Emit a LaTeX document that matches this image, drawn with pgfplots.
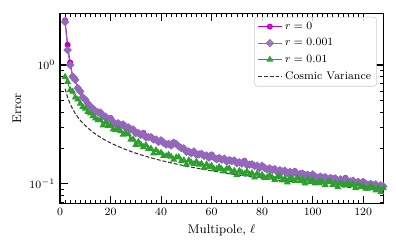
\documentclass[border=0pt]{standalone}
\usepackage{pgfplots}
\usepackage{pgfplotstable}
\pgfplotsset{compat=1.18}
\definecolor{cmag}{RGB}{191,0,191}
\definecolor{cpur}{RGB}{148,103,189}
\definecolor{cgrn}{RGB}{44,160,44}
\pgfplotstableread{
l m p g cv
2 2.38 2.30 0.796 0.6325
3 1.48 1.34 0.723 0.5345
4 1.05 1.00 0.615 0.4714
5 0.80 0.80 0.596 0.4264
6 0.76 0.75 0.533 0.3922
7 0.64 0.64 0.513 0.3651
8 0.60 0.60 0.474 0.3430
9 0.535 0.535 0.444 0.3244
10 0.51 0.51 0.430 0.3086
11 0.475 0.475 0.403 0.2949
12 0.445 0.445 0.391 0.2828
13 0.43 0.43 0.371 0.2722
14 0.405 0.405 0.355 0.2626
15 0.40 0.40 0.344 0.2540
16 0.397 0.397 0.344 0.2462
17 0.372 0.372 0.311 0.2390
18 0.367 0.367 0.328 0.2325
19 0.345 0.345 0.307 0.2265
20 0.358 0.352 0.309 0.2209
21 0.332 0.332 0.287 0.2157
22 0.319 0.319 0.283 0.2108
23 0.323 0.323 0.291 0.2063
24 0.312 0.312 0.277 0.2020
25 0.316 0.316 0.260 0.1980
26 0.296 0.296 0.267 0.1943
27 0.299 0.299 0.262 0.1907
28 0.288 0.288 0.236 0.1873
29 0.286 0.286 0.237 0.1841
30 0.267 0.267 0.213 0.1811
31 0.268 0.268 0.226 0.1782
32 0.258 0.258 0.214 0.1754
33 0.268 0.263 0.204 0.1728
34 0.246 0.246 0.212 0.1703
35 0.247 0.247 0.197 0.1678
36 0.247 0.247 0.198 0.1655
37 0.236 0.236 0.180 0.1633
38 0.236 0.236 0.192 0.1612
39 0.225 0.225 0.181 0.1591
40 0.232 0.232 0.183 0.1571
41 0.222 0.222 0.172 0.1552
42 0.214 0.214 0.171 0.1534
43 0.217 0.217 0.176 0.1516
44 0.210 0.210 0.169 0.1499
45 0.224 0.221 0.160 0.1483
46 0.216 0.216 0.167 0.1466
47 0.207 0.207 0.168 0.1451
48 0.200 0.200 0.155 0.1436
49 0.199 0.199 0.158 0.1421
50 0.186 0.186 0.145 0.1407
51 0.187 0.187 0.158 0.1393
52 0.181 0.181 0.151 0.1380
53 0.187 0.187 0.147 0.1367
54 0.176 0.176 0.154 0.1355
55 0.177 0.177 0.145 0.1342
56 0.179 0.179 0.148 0.1330
57 0.172 0.172 0.136 0.1319
58 0.173 0.173 0.146 0.1307
59 0.166 0.166 0.139 0.1296
60 0.176 0.173 0.142 0.1286
61 0.166 0.166 0.133 0.1275
62 0.161 0.161 0.133 0.1265
63 0.165 0.165 0.139 0.1255
64 0.160 0.160 0.133 0.1245
65 0.163 0.163 0.127 0.1236
66 0.154 0.154 0.134 0.1226
67 0.158 0.158 0.135 0.1217
68 0.155 0.155 0.125 0.1208
69 0.157 0.157 0.129 0.1200
70 0.149 0.149 0.119 0.1191
71 0.152 0.152 0.129 0.1183
72 0.148 0.148 0.124 0.1174
73 0.156 0.153 0.121 0.1166
74 0.144 0.144 0.127 0.1159
75 0.145 0.145 0.120 0.1151
76 0.146 0.146 0.123 0.1143
77 0.141 0.141 0.113 0.1136
78 0.142 0.142 0.122 0.1129
79 0.136 0.136 0.116 0.1122
80 0.142 0.142 0.119 0.1115
81 0.136 0.136 0.112 0.1108
82 0.132 0.132 0.113 0.1101
83 0.135 0.135 0.118 0.1094
84 0.131 0.131 0.113 0.1088
85 0.133 0.133 0.108 0.1081
86 0.126 0.126 0.114 0.1075
87 0.130 0.130 0.116 0.1069
88 0.127 0.127 0.107 0.1063
89 0.129 0.129 0.111 0.1057
90 0.123 0.123 0.103 0.1051
91 0.126 0.126 0.112 0.1045
92 0.122 0.122 0.109 0.1040
93 0.128 0.126 0.106 0.1034
94 0.119 0.119 0.112 0.1029
95 0.121 0.121 0.106 0.1023
96 0.122 0.122 0.109 0.1018
97 0.118 0.118 0.101 0.1013
98 0.119 0.119 0.109 0.1008
99 0.115 0.115 0.104 0.1003
100 0.120 0.120 0.107 0.0998
101 0.115 0.115 0.101 0.0993
102 0.112 0.112 0.102 0.0988
103 0.115 0.115 0.106 0.0983
104 0.112 0.112 0.103 0.0978
105 0.114 0.114 0.098 0.0974
106 0.108 0.108 0.104 0.0969
107 0.112 0.112 0.105 0.0965
108 0.110 0.110 0.098 0.0960
109 0.111 0.111 0.101 0.0956
110 0.106 0.106 0.094 0.0951
111 0.109 0.109 0.102 0.0947
112 0.106 0.106 0.099 0.0943
113 0.112 0.110 0.097 0.0939
114 0.103 0.103 0.102 0.0934
115 0.105 0.105 0.097 0.0930
116 0.106 0.106 0.099 0.0926
117 0.102 0.102 0.092 0.0922
118 0.104 0.104 0.099 0.0918
119 0.100 0.100 0.094 0.0915
120 0.104 0.104 0.096 0.0911
121 0.100 0.100 0.091 0.0907
122 0.098 0.098 0.091 0.0903
123 0.100 0.100 0.096 0.0900
124 0.097 0.097 0.092 0.0896
125 0.099 0.099 0.088 0.0893
126 0.094 0.094 0.093 0.0889
127 0.097 0.097 0.085 0.0886
128 0.095 0.095 0.092 0.0882
}\datatable
\begin{document}
\begin{tikzpicture}
\begin{axis}[
  scale only axis,
  width=232.6pt, height=136.8pt,
  ymode=log,
  xmin=0, xmax=128,
  ymin=0.0686, ymax=2.74,
  xtick={0,20,40,60,80,100,120},
  minor x tick num=9,
  tick align=inside,
  tick pos=both,
  major tick length=5.5pt,
  minor tick length=2.5pt,
  every major tick/.append style={line width=0.8pt, black},
  every minor tick/.append style={line width=0.5pt, black},
  axis line style={line width=0.8pt},
  tick label style={font=\fontsize{8}{9}\selectfont},
  label style={font=\fontsize{9}{10}\selectfont},
  xlabel={Multipole, $\ell$},
  ylabel={Error},
  xlabel style={at={(axis description cs:0.5,-0.142)}, anchor=center},
  ylabel style={at={(axis description cs:-0.133,0.5)}, anchor=center},
  legend cell align=left,
  legend style={at={(0.98,0.98)}, anchor=north east,
    font=\fontsize{8}{9}\selectfont,
    draw=black!20, rounded corners=2pt, fill=white, fill opacity=0.8, text opacity=1,
    row sep=1.2pt, inner xsep=2pt, inner ysep=1.5pt},
]
\addplot[color=cmag, line width=0.7pt, mark=*, mark size=1.8pt, mark options={solid}] table[x=l,y=m] {\datatable};
\addlegendentry{$r=0$}
\addplot[color=cpur, line width=0.7pt, mark=square*, mark size=1.8pt, mark options={solid, rotate=45}] table[x=l,y=p] {\datatable};
\addlegendentry{$r=0.001$}
\addplot[color=cgrn, line width=0.7pt, mark=triangle*, mark size=2.2pt, mark options={solid}] table[x=l,y=g] {\datatable};
\addlegendentry{$r=0.01$}
\addplot[color=black!80, line width=0.75pt, dash pattern=on 2.8pt off 1.4pt] table[x=l,y=cv] {\datatable};
\addlegendentry{Cosmic Variance}
\end{axis}
\pgfresetboundingbox
\path ([shift={(-43.2pt,-34.6pt)}]current axis.south west) rectangle ([shift={(9.1pt,9.4pt)}]current axis.north east);
\end{tikzpicture}
\end{document}
